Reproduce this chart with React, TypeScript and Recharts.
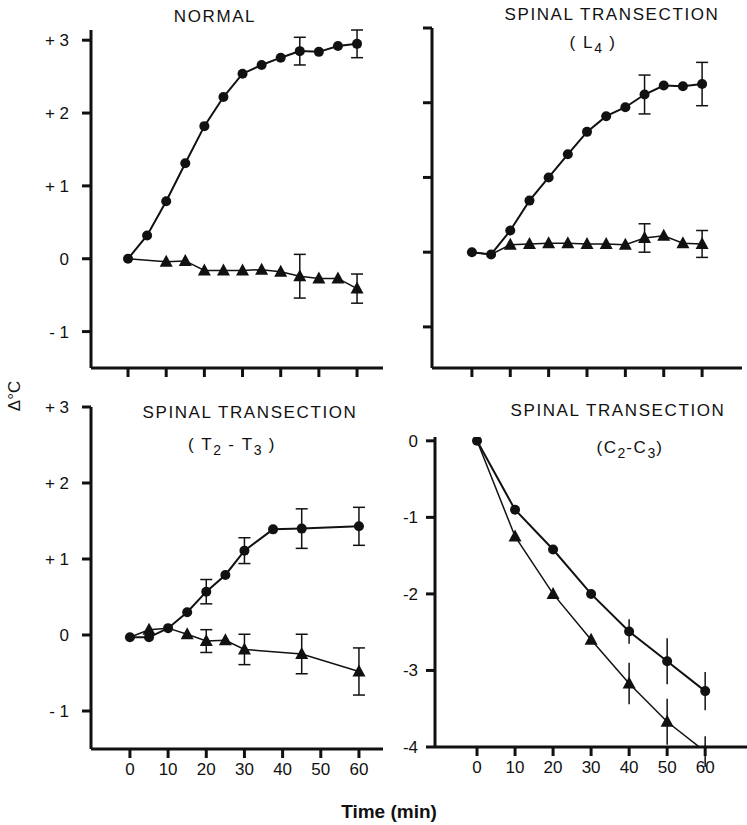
import React from 'react';
import { LineChart, Line, XAxis, YAxis, ErrorBar } from 'recharts';

const INK = '#111111';
const FONT = '"Liberation Sans", Arial, sans-serif';

// time points (min)
const times5 = [0, 5, 10, 15, 20, 25, 30, 35, 40, 45, 50, 55, 60];
const timesT2 = [0, 5, 10, 15, 20, 25, 30, 37.5, 45, 60];
const times10 = [0, 10, 20, 30, 40, 50, 60];

const xTicks = [0, 10, 20, 30, 40, 50, 60];
const upperYTicks = [3, 2, 1, 0, -1];
const c2YTicks = [0, -1, -2, -3, -4];

// NORMAL
const normalCircle = [0, 0.32, 0.79, 1.31, 1.82, 2.22, 2.54, 2.66, 2.76, 2.85, 2.84, 2.92, 2.95];
const normalCircleErr = [null, null, null, null, null, null, null, null, null, 0.19, null, null, 0.19];
const normalTriangle = [0, null, -0.04, -0.03, -0.16, -0.16, -0.16, -0.15, -0.18, -0.24, -0.27, -0.27, -0.41];
const normalTriangleErr = [null, null, null, null, null, null, null, null, null, 0.3, null, null, 0.2];

// SPINAL TRANSECTION (L4)
const l4Circle = [0, -0.03, 0.29, 0.69, 1.0, 1.31, 1.61, 1.82, 1.94, 2.11, 2.23, 2.22, 2.25];
const l4CircleErr = [null, null, null, null, null, null, null, null, null, 0.26, null, null, 0.29];
const l4Triangle = [0, -0.03, 0.1, 0.11, 0.12, 0.12, 0.11, 0.11, 0.1, 0.19, 0.22, 0.12, 0.11];
const l4TriangleErr = [null, null, null, null, null, null, null, null, null, 0.19, null, null, 0.18];

// SPINAL TRANSECTION (T2-T3)
const t2Circle = [-0.03, -0.03, 0.09, 0.3, 0.57, 0.79, 1.11, 1.39, 1.4, 1.43];
const t2CircleErr = [null, null, null, null, 0.16, null, 0.17, null, 0.26, 0.25];
const t2Triangle = [-0.03, 0.07, 0.09, 0.01, -0.08, -0.07, -0.19, null, -0.25, -0.48];
const t2TriangleErr = [null, null, null, null, 0.15, null, 0.2, null, 0.26, 0.31];

// SPINAL TRANSECTION (C2-C3)
const c2Circle = [0, -0.9, -1.42, -2.0, -2.49, -2.88, -3.27];
const c2CircleErr = [null, null, null, null, 0.16, 0.3, 0.25];
const c2Triangle = [0, -1.25, -2.0, -2.6, -3.17, -3.67, -4.06];
const c2TriangleErr = [null, null, null, null, 0.27, 0.3, 0.2];

function buildRows(
  times: number[],
  circle: (number | null)[],
  circleErr: (number | null)[],
  tri: (number | null)[],
  triErr: (number | null)[]
) {
  return times.map((t, i) => ({ t, c: circle[i], cErr: circleErr[i], tr: tri[i], trErr: triErr[i] }));
}

const circleDot = (p: any) => {
  const { cx, cy, index, value } = p;
  if (cx == null || cy == null || value == null) return <g key={`c${index}`} />;
  return <circle key={`c${index}`} cx={cx} cy={cy} r={5} fill={INK} />;
};

// triangles that sit on a circle point are hidden under the circle
const triangleDot = (p: any) => {
  const { cx, cy, index, payload } = p;
  if (cx == null || cy == null || payload.tr == null || payload.tr === payload.c) {
    return <g key={`t${index}`} />;
  }
  return (
    <polygon
      key={`t${index}`}
      points={`${cx},${cy - 7} ${cx - 6.5},${cy + 5} ${cx + 6.5},${cy + 5}`}
      fill={INK}
    />
  );
};

const signedTick = (v: number) => (v > 0 ? `+ ${v}` : v < 0 ? `- ${Math.abs(v)}` : '0');

interface PanelProps {
  rows: ReturnType<typeof buildRows>;
  plot: { left: number; top: number; right: number; bottom: number };
  xDomain: [number, number];
  yDomain: [number, number];
  yTicks: number[];
  yFormat?: (v: number) => string;
  showX: boolean;
  showY: boolean;
  cap: number;
  yGap: number;
  clip?: boolean;
}

const YW = 70;
const XH = 40;

function Panel({ rows, plot, xDomain, yDomain, yTicks, yFormat, showX, showY, cap, yGap, clip }: PanelProps) {
  const width = plot.right - plot.left + YW + 5;
  const height = plot.bottom - plot.top + 10 + XH;
  return (
    <div style={{ position: 'absolute', left: plot.left - YW, top: plot.top - 10 }}>
      <LineChart width={width} height={height} data={rows} margin={{ top: 10, right: 5, left: 0, bottom: 0 }}>
        <XAxis
          dataKey="t"
          type="number"
          domain={xDomain}
          ticks={xTicks}
          height={XH}
          axisLine={{ stroke: INK, strokeWidth: 3 }}
          tickLine={{ stroke: INK, strokeWidth: 3 }}
          tickSize={9}
          tickMargin={5}
          tick={{ fill: INK, fontSize: 17, fontFamily: FONT }}
          tickFormatter={showX ? (v: number) => String(v) : () => ''}
        />
        <YAxis
          type="number"
          domain={yDomain}
          ticks={yTicks}
          width={YW}
          allowDataOverflow={clip}
          axisLine={{ stroke: INK, strokeWidth: 3 }}
          tickLine={{ stroke: INK, strokeWidth: 3 }}
          tickSize={9}
          tickMargin={yGap}
          tick={{ fill: INK, fontSize: 17, fontFamily: FONT }}
          tickFormatter={showY ? yFormat ?? ((v: number) => String(v)) : () => ''}
        />
        <Line
          dataKey="tr"
          stroke={INK}
          strokeWidth={1.5}
          dot={triangleDot}
          activeDot={false}
          connectNulls
          isAnimationActive={false}
        >
          <ErrorBar dataKey="trErr" direction="y" width={cap} stroke={INK} strokeWidth={1.5} />
        </Line>
        <Line
          dataKey="c"
          stroke={INK}
          strokeWidth={2}
          dot={circleDot}
          activeDot={false}
          connectNulls
          isAnimationActive={false}
        >
          <ErrorBar dataKey="cErr" direction="y" width={cap} stroke={INK} strokeWidth={1.5} />
        </Line>
      </LineChart>
    </div>
  );
}

const titleStyle: React.CSSProperties = {
  position: 'absolute',
  width: 300,
  textAlign: 'center',
  fontFamily: FONT,
  fontSize: 17,
  letterSpacing: 1.6,
  lineHeight: '22px',
  color: INK,
  whiteSpace: 'nowrap',
};

const subStyle: React.CSSProperties = { fontSize: 14, verticalAlign: -5, letterSpacing: 1 };

function Title({ x, y, children }: { x: number; y: number; children: React.ReactNode }) {
  return <div style={{ ...titleStyle, left: x - 150, top: y - 11 }}>{children}</div>;
}

export default function App() {
  return (
    <div
      style={{
        position: 'absolute',
        left: 0,
        top: 0,
        width: 747,
        height: 825,
        background: '#fff',
        overflow: 'hidden',
      }}
    >
      <Panel
        rows={buildRows(times5, normalCircle, normalCircleErr, normalTriangle, normalTriangleErr)}
        plot={{ left: 91, top: 30, right: 383, bottom: 368 }}
        xDomain={[-9.7, 66.8]}
        yDomain={[-1.5, 3]}
        yTicks={upperYTicks}
        yFormat={signedTick}
        showX={false}
        showY
        cap={6}
        yGap={13}
      />
      <Panel
        rows={buildRows(times5, l4Circle, l4CircleErr, l4Triangle, l4TriangleErr)}
        plot={{ left: 432, top: 28, right: 742, bottom: 368 }}
        xDomain={[-10.4, 70.4]}
        yDomain={[-1.55, 3]}
        yTicks={upperYTicks}
        showX={false}
        showY={false}
        cap={6}
        yGap={13}
      />
      <Panel
        rows={buildRows(timesT2, t2Circle, t2CircleErr, t2Triangle, t2TriangleErr)}
        plot={{ left: 91, top: 407, right: 383, bottom: 749 }}
        xDomain={[-10.2, 66.3]}
        yDomain={[-1.5, 3]}
        yTicks={upperYTicks}
        yFormat={signedTick}
        showX
        showY
        cap={6}
        yGap={13}
      />
      <Panel
        rows={buildRows(times10, c2Circle, c2CircleErr, c2Triangle, c2TriangleErr)}
        plot={{ left: 435, top: 437, right: 747, bottom: 747 }}
        xDomain={[-11.05, 71]}
        yDomain={[-4, 0.05]}
        yTicks={c2YTicks}
        showX
        showY
        cap={0}
        yGap={8}
        clip
      />

      <Title x={215} y={17}>NORMAL</Title>
      <Title x={612} y={15}>SPINAL TRANSECTION</Title>
      <Title x={593} y={43}>
        ( L<span style={subStyle}>4</span> )
      </Title>
      <Title x={250} y={413}>SPINAL TRANSECTION</Title>
      <Title x={232} y={445}>
        ( T<span style={subStyle}>2</span> - T<span style={subStyle}>3</span> )
      </Title>
      <Title x={618} y={411}>SPINAL TRANSECTION</Title>
      <Title x={630} y={448}>
        (C<span style={subStyle}>2</span>-C<span style={subStyle}>3</span>)
      </Title>

      <div
        style={{
          position: 'absolute',
          left: 15 - 30,
          top: 396 - 10,
          width: 60,
          lineHeight: '20px',
          textAlign: 'center',
          transform: 'rotate(-90deg)',
          fontFamily: FONT,
          fontSize: 17,
          color: INK,
        }}
      >
        Δ°C
      </div>
      <div
        style={{
          position: 'absolute',
          left: 389 - 80,
          top: 812 - 11,
          width: 160,
          lineHeight: '22px',
          textAlign: 'center',
          fontFamily: FONT,
          fontSize: 19,
          fontWeight: 600,
          color: INK,
        }}
      >
        Time (min)
      </div>
    </div>
  );
}
